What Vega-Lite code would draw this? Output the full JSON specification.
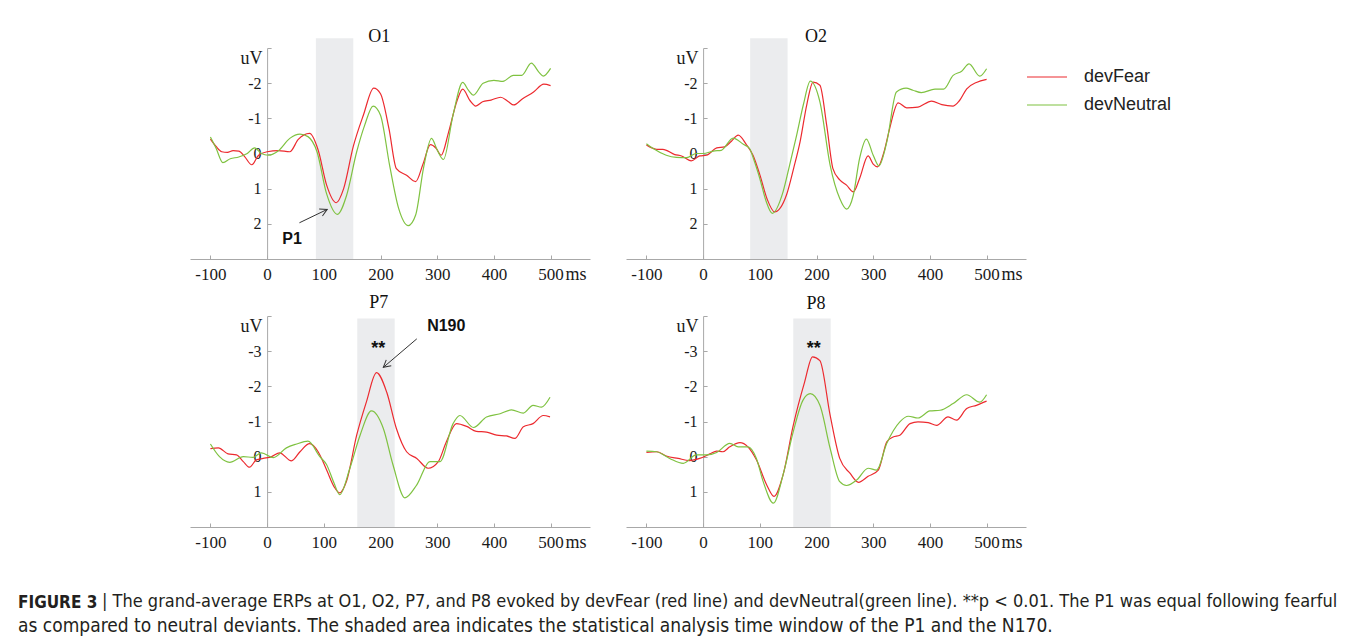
{
  "$schema": "https://vega.github.io/schema/vega-lite/v6.json",
  "background": "white",
  "padding": {"left": 18, "top": 27, "right": 5, "bottom": 5},
  "config": {
    "view": {"stroke": null},
    "axis": {"grid": false, "domainColor": "#a8a8a8", "tickColor": "#a8a8a8", "labelFont": "Liberation Serif", "labelColor": "#1a1a1a", "titleFont": "Liberation Serif", "titleFontWeight": "normal", "titleColor": "#1a1a1a", "labelOverlap": false, "labelFlush": false},
    "title": {"font": "Liberation Sans Narrow, DejaVu Sans Condensed, sans-serif", "fontWeight": "normal", "fontSize": 17, "color": "#231f20"},
    "line": {"strokeWidth": 1.2, "interpolate": "monotone"},
    "legend": {"orient": "none", "legendX": 846, "legendY": 18, "title": null, "symbolType": "M-2,0L2,0", "symbolSize": 400, "symbolStrokeWidth": 1.5, "labelFont": "Liberation Sans", "labelFontSize": 18, "labelColor": "#222222", "labelOffset": 26, "rowPadding": 8, "padding": 0}
  },
  "datasets": {
    "win": [
      {"ch": "O1", "t0": 86, "t1": 152, "v0": 3, "v1": -3.28},
      {"ch": "O2", "t0": 83, "t1": 149, "v0": 3, "v1": -3.28},
      {"ch": "P7", "t0": 159, "t1": 225, "v0": 2, "v1": -3.93},
      {"ch": "P8", "t0": 159, "t1": 225, "v0": 2, "v1": -3.93}
    ],
    "names": [
      {"ch": "O1", "t": 198, "v": -3.176, "label": "O1"},
      {"ch": "O2", "t": 199, "v": -3.176, "label": "O2"},
      {"ch": "P7", "t": 197, "v": -4.216, "label": "P7"},
      {"ch": "P8", "t": 199, "v": -4.2, "label": "P8"}
    ],
    "ann": [
      {"ch": "O1", "t": 44, "v": 2.58, "label": "P1"},
      {"ch": "P7", "t": 316, "v": -3.57, "label": "N190"}
    ],
    "stars": [
      {"ch": "P7", "t": 196, "v": -2.92, "label": "**"},
      {"ch": "P8", "t": 195, "v": -2.92, "label": "**"}
    ],
    "arrows": [
      {"ch": "O1", "t": 57, "v": 1.97, "t2": 106, "v2": 1.59},
      {"ch": "P7", "t": 264, "v": -3.35, "t2": 205, "v2": -2.54}
    ],
    "erp": [
      {"ch":"O1","c":"devFear","t":-100,"v":-0.41},{"ch":"O1","c":"devFear","t":-90,"v":-0.2},{"ch":"O1","c":"devFear","t":-80,"v":-0.05},{"ch":"O1","c":"devFear","t":-70,"v":-0.03},{"ch":"O1","c":"devFear","t":-60,"v":-0.08},{"ch":"O1","c":"devFear","t":-50,"v":-0.07},{"ch":"O1","c":"devFear","t":-40,"v":0.08},{"ch":"O1","c":"devFear","t":-27,"v":0.32},{"ch":"O1","c":"devFear","t":-15,"v":0.05},{"ch":"O1","c":"devFear","t":0,"v":-0.05},{"ch":"O1","c":"devFear","t":20,"v":-0.08},{"ch":"O1","c":"devFear","t":40,"v":-0.05},{"ch":"O1","c":"devFear","t":55,"v":-0.4},{"ch":"O1","c":"devFear","t":75,"v":-0.57},{"ch":"O1","c":"devFear","t":90,"v":-0.1},{"ch":"O1","c":"devFear","t":105,"v":0.9},{"ch":"O1","c":"devFear","t":122,"v":1.4},{"ch":"O1","c":"devFear","t":135,"v":1.0},{"ch":"O1","c":"devFear","t":152,"v":-0.2},{"ch":"O1","c":"devFear","t":170,"v":-1.1},{"ch":"O1","c":"devFear","t":188,"v":-1.86},{"ch":"O1","c":"devFear","t":200,"v":-1.7},{"ch":"O1","c":"devFear","t":215,"v":-0.7},{"ch":"O1","c":"devFear","t":228,"v":0.43},{"ch":"O1","c":"devFear","t":246,"v":0.62},{"ch":"O1","c":"devFear","t":262,"v":0.8},{"ch":"O1","c":"devFear","t":275,"v":0.3},{"ch":"O1","c":"devFear","t":288,"v":-0.25},{"ch":"O1","c":"devFear","t":298,"v":-0.15},{"ch":"O1","c":"devFear","t":307,"v":0.05},{"ch":"O1","c":"devFear","t":320,"v":-0.6},{"ch":"O1","c":"devFear","t":335,"v":-1.5},{"ch":"O1","c":"devFear","t":345,"v":-1.83},{"ch":"O1","c":"devFear","t":358,"v":-1.5},{"ch":"O1","c":"devFear","t":368,"v":-1.35},{"ch":"O1","c":"devFear","t":380,"v":-1.47},{"ch":"O1","c":"devFear","t":395,"v":-1.52},{"ch":"O1","c":"devFear","t":412,"v":-1.6},{"ch":"O1","c":"devFear","t":425,"v":-1.48},{"ch":"O1","c":"devFear","t":435,"v":-1.38},{"ch":"O1","c":"devFear","t":450,"v":-1.55},{"ch":"O1","c":"devFear","t":470,"v":-1.75},{"ch":"O1","c":"devFear","t":488,"v":-1.97},{"ch":"O1","c":"devFear","t":500,"v":-1.93},
      {"ch":"O1","c":"devNeutral","t":-100,"v":-0.47},{"ch":"O1","c":"devNeutral","t":-90,"v":-0.15},{"ch":"O1","c":"devNeutral","t":-78,"v":0.26},{"ch":"O1","c":"devNeutral","t":-65,"v":0.15},{"ch":"O1","c":"devNeutral","t":-50,"v":0.1},{"ch":"O1","c":"devNeutral","t":-35,"v":0.0},{"ch":"O1","c":"devNeutral","t":-22,"v":-0.16},{"ch":"O1","c":"devNeutral","t":-10,"v":0.0},{"ch":"O1","c":"devNeutral","t":2,"v":0.05},{"ch":"O1","c":"devNeutral","t":20,"v":-0.08},{"ch":"O1","c":"devNeutral","t":40,"v":-0.43},{"ch":"O1","c":"devNeutral","t":58,"v":-0.55},{"ch":"O1","c":"devNeutral","t":72,"v":-0.48},{"ch":"O1","c":"devNeutral","t":88,"v":-0.05},{"ch":"O1","c":"devNeutral","t":105,"v":1.15},{"ch":"O1","c":"devNeutral","t":124,"v":1.73},{"ch":"O1","c":"devNeutral","t":140,"v":1.2},{"ch":"O1","c":"devNeutral","t":158,"v":-0.05},{"ch":"O1","c":"devNeutral","t":172,"v":-0.8},{"ch":"O1","c":"devNeutral","t":187,"v":-1.35},{"ch":"O1","c":"devNeutral","t":200,"v":-1.09},{"ch":"O1","c":"devNeutral","t":216,"v":0.33},{"ch":"O1","c":"devNeutral","t":232,"v":1.56},{"ch":"O1","c":"devNeutral","t":249,"v":2.05},{"ch":"O1","c":"devNeutral","t":262,"v":1.75},{"ch":"O1","c":"devNeutral","t":276,"v":0.4},{"ch":"O1","c":"devNeutral","t":290,"v":-0.43},{"ch":"O1","c":"devNeutral","t":300,"v":-0.1},{"ch":"O1","c":"devNeutral","t":311,"v":0.17},{"ch":"O1","c":"devNeutral","t":328,"v":-1.1},{"ch":"O1","c":"devNeutral","t":345,"v":-2.02},{"ch":"O1","c":"devNeutral","t":355,"v":-1.8},{"ch":"O1","c":"devNeutral","t":364,"v":-1.66},{"ch":"O1","c":"devNeutral","t":381,"v":-2.0},{"ch":"O1","c":"devNeutral","t":400,"v":-2.08},{"ch":"O1","c":"devNeutral","t":416,"v":-2.05},{"ch":"O1","c":"devNeutral","t":434,"v":-2.22},{"ch":"O1","c":"devNeutral","t":449,"v":-2.22},{"ch":"O1","c":"devNeutral","t":466,"v":-2.57},{"ch":"O1","c":"devNeutral","t":480,"v":-2.3},{"ch":"O1","c":"devNeutral","t":487,"v":-2.2},{"ch":"O1","c":"devNeutral","t":500,"v":-2.42},
      {"ch":"O2","c":"devFear","t":-100,"v":-0.24},{"ch":"O2","c":"devFear","t":-82,"v":-0.12},{"ch":"O2","c":"devFear","t":-71,"v":-0.12},{"ch":"O2","c":"devFear","t":-50,"v":0.03},{"ch":"O2","c":"devFear","t":-38,"v":0.07},{"ch":"O2","c":"devFear","t":-21,"v":0.21},{"ch":"O2","c":"devFear","t":-6,"v":0.07},{"ch":"O2","c":"devFear","t":6,"v":0.05},{"ch":"O2","c":"devFear","t":24,"v":-0.16},{"ch":"O2","c":"devFear","t":38,"v":-0.19},{"ch":"O2","c":"devFear","t":50,"v":-0.35},{"ch":"O2","c":"devFear","t":62,"v":-0.52},{"ch":"O2","c":"devFear","t":76,"v":-0.26},{"ch":"O2","c":"devFear","t":88,"v":0.05},{"ch":"O2","c":"devFear","t":100,"v":0.6},{"ch":"O2","c":"devFear","t":113,"v":1.3},{"ch":"O2","c":"devFear","t":126,"v":1.66},{"ch":"O2","c":"devFear","t":147,"v":1.18},{"ch":"O2","c":"devFear","t":160,"v":0.4},{"ch":"O2","c":"devFear","t":171,"v":-0.33},{"ch":"O2","c":"devFear","t":183,"v":-1.4},{"ch":"O2","c":"devFear","t":194,"v":-2.03},{"ch":"O2","c":"devFear","t":206,"v":-1.94},{"ch":"O2","c":"devFear","t":218,"v":-0.8},{"ch":"O2","c":"devFear","t":229,"v":0.43},{"ch":"O2","c":"devFear","t":241,"v":0.75},{"ch":"O2","c":"devFear","t":253,"v":0.9},{"ch":"O2","c":"devFear","t":265,"v":1.09},{"ch":"O2","c":"devFear","t":276,"v":0.71},{"ch":"O2","c":"devFear","t":291,"v":0.07},{"ch":"O2","c":"devFear","t":300,"v":0.3},{"ch":"O2","c":"devFear","t":308,"v":0.38},{"ch":"O2","c":"devFear","t":320,"v":-0.1},{"ch":"O2","c":"devFear","t":329,"v":-0.71},{"ch":"O2","c":"devFear","t":344,"v":-1.44},{"ch":"O2","c":"devFear","t":359,"v":-1.3},{"ch":"O2","c":"devFear","t":379,"v":-1.32},{"ch":"O2","c":"devFear","t":403,"v":-1.49},{"ch":"O2","c":"devFear","t":421,"v":-1.39},{"ch":"O2","c":"devFear","t":441,"v":-1.35},{"ch":"O2","c":"devFear","t":452,"v":-1.5},{"ch":"O2","c":"devFear","t":465,"v":-1.84},{"ch":"O2","c":"devFear","t":482,"v":-2.02},{"ch":"O2","c":"devFear","t":500,"v":-2.11},
      {"ch":"O2","c":"devNeutral","t":-100,"v":-0.28},{"ch":"O2","c":"devNeutral","t":-88,"v":-0.14},{"ch":"O2","c":"devNeutral","t":-65,"v":0.05},{"ch":"O2","c":"devNeutral","t":-47,"v":0.11},{"ch":"O2","c":"devNeutral","t":-29,"v":0.12},{"ch":"O2","c":"devNeutral","t":-12,"v":0.0},{"ch":"O2","c":"devNeutral","t":0,"v":0.0},{"ch":"O2","c":"devNeutral","t":18,"v":-0.07},{"ch":"O2","c":"devNeutral","t":32,"v":-0.09},{"ch":"O2","c":"devNeutral","t":53,"v":-0.44},{"ch":"O2","c":"devNeutral","t":71,"v":-0.26},{"ch":"O2","c":"devNeutral","t":82,"v":-0.14},{"ch":"O2","c":"devNeutral","t":90,"v":0.2},{"ch":"O2","c":"devNeutral","t":100,"v":0.71},{"ch":"O2","c":"devNeutral","t":111,"v":1.35},{"ch":"O2","c":"devNeutral","t":122,"v":1.7},{"ch":"O2","c":"devNeutral","t":141,"v":1.09},{"ch":"O2","c":"devNeutral","t":153,"v":0.3},{"ch":"O2","c":"devNeutral","t":165,"v":-0.52},{"ch":"O2","c":"devNeutral","t":177,"v":-1.4},{"ch":"O2","c":"devNeutral","t":189,"v":-2.06},{"ch":"O2","c":"devNeutral","t":206,"v":-1.47},{"ch":"O2","c":"devNeutral","t":224,"v":0.33},{"ch":"O2","c":"devNeutral","t":241,"v":1.28},{"ch":"O2","c":"devNeutral","t":253,"v":1.58},{"ch":"O2","c":"devNeutral","t":265,"v":1.18},{"ch":"O2","c":"devNeutral","t":276,"v":0.14},{"ch":"O2","c":"devNeutral","t":288,"v":-0.41},{"ch":"O2","c":"devNeutral","t":300,"v":0.05},{"ch":"O2","c":"devNeutral","t":310,"v":0.35},{"ch":"O2","c":"devNeutral","t":324,"v":-0.33},{"ch":"O2","c":"devNeutral","t":341,"v":-1.75},{"ch":"O2","c":"devNeutral","t":358,"v":-1.86},{"ch":"O2","c":"devNeutral","t":370,"v":-1.8},{"ch":"O2","c":"devNeutral","t":385,"v":-1.73},{"ch":"O2","c":"devNeutral","t":409,"v":-1.83},{"ch":"O2","c":"devNeutral","t":424,"v":-1.83},{"ch":"O2","c":"devNeutral","t":441,"v":-2.22},{"ch":"O2","c":"devNeutral","t":456,"v":-2.34},{"ch":"O2","c":"devNeutral","t":469,"v":-2.55},{"ch":"O2","c":"devNeutral","t":488,"v":-2.2},{"ch":"O2","c":"devNeutral","t":500,"v":-2.41},
      {"ch":"P7","c":"devFear","t":-100,"v":-0.23},{"ch":"P7","c":"devFear","t":-86,"v":-0.25},{"ch":"P7","c":"devFear","t":-69,"v":-0.08},{"ch":"P7","c":"devFear","t":-54,"v":-0.05},{"ch":"P7","c":"devFear","t":-42,"v":0.14},{"ch":"P7","c":"devFear","t":-31,"v":0.3},{"ch":"P7","c":"devFear","t":-19,"v":0.09},{"ch":"P7","c":"devFear","t":-7,"v":0.05},{"ch":"P7","c":"devFear","t":8,"v":0.0},{"ch":"P7","c":"devFear","t":22,"v":-0.11},{"ch":"P7","c":"devFear","t":43,"v":0.12},{"ch":"P7","c":"devFear","t":58,"v":-0.14},{"ch":"P7","c":"devFear","t":75,"v":-0.37},{"ch":"P7","c":"devFear","t":90,"v":-0.14},{"ch":"P7","c":"devFear","t":105,"v":0.38},{"ch":"P7","c":"devFear","t":118,"v":0.85},{"ch":"P7","c":"devFear","t":128,"v":1.03},{"ch":"P7","c":"devFear","t":140,"v":0.7},{"ch":"P7","c":"devFear","t":158,"v":-0.61},{"ch":"P7","c":"devFear","t":175,"v":-1.55},{"ch":"P7","c":"devFear","t":193,"v":-2.39},{"ch":"P7","c":"devFear","t":211,"v":-1.83},{"ch":"P7","c":"devFear","t":228,"v":-0.8},{"ch":"P7","c":"devFear","t":246,"v":-0.14},{"ch":"P7","c":"devFear","t":264,"v":0.05},{"ch":"P7","c":"devFear","t":284,"v":0.33},{"ch":"P7","c":"devFear","t":302,"v":0.14},{"ch":"P7","c":"devFear","t":316,"v":-0.42},{"ch":"P7","c":"devFear","t":334,"v":-0.94},{"ch":"P7","c":"devFear","t":352,"v":-0.86},{"ch":"P7","c":"devFear","t":369,"v":-0.72},{"ch":"P7","c":"devFear","t":387,"v":-0.7},{"ch":"P7","c":"devFear","t":405,"v":-0.61},{"ch":"P7","c":"devFear","t":422,"v":-0.59},{"ch":"P7","c":"devFear","t":437,"v":-0.52},{"ch":"P7","c":"devFear","t":452,"v":-0.85},{"ch":"P7","c":"devFear","t":469,"v":-0.94},{"ch":"P7","c":"devFear","t":487,"v":-1.17},{"ch":"P7","c":"devFear","t":499,"v":-1.13},
      {"ch":"P7","c":"devNeutral","t":-100,"v":-0.36},{"ch":"P7","c":"devNeutral","t":-84,"v":0.0},{"ch":"P7","c":"devNeutral","t":-66,"v":0.16},{"ch":"P7","c":"devNeutral","t":-42,"v":0.0},{"ch":"P7","c":"devNeutral","t":-25,"v":0.02},{"ch":"P7","c":"devNeutral","t":-10,"v":-0.11},{"ch":"P7","c":"devNeutral","t":11,"v":0.03},{"ch":"P7","c":"devNeutral","t":34,"v":-0.25},{"ch":"P7","c":"devNeutral","t":52,"v":-0.36},{"ch":"P7","c":"devNeutral","t":72,"v":-0.44},{"ch":"P7","c":"devNeutral","t":93,"v":0.0},{"ch":"P7","c":"devNeutral","t":105,"v":0.23},{"ch":"P7","c":"devNeutral","t":118,"v":0.75},{"ch":"P7","c":"devNeutral","t":128,"v":1.08},{"ch":"P7","c":"devNeutral","t":146,"v":0.33},{"ch":"P7","c":"devNeutral","t":164,"v":-0.61},{"ch":"P7","c":"devNeutral","t":184,"v":-1.3},{"ch":"P7","c":"devNeutral","t":205,"v":-0.8},{"ch":"P7","c":"devNeutral","t":222,"v":0.23},{"ch":"P7","c":"devNeutral","t":243,"v":1.17},{"ch":"P7","c":"devNeutral","t":264,"v":0.8},{"ch":"P7","c":"devNeutral","t":287,"v":0.14},{"ch":"P7","c":"devNeutral","t":305,"v":0.14},{"ch":"P7","c":"devNeutral","t":328,"v":-0.94},{"ch":"P7","c":"devNeutral","t":340,"v":-1.17},{"ch":"P7","c":"devNeutral","t":364,"v":-0.83},{"ch":"P7","c":"devNeutral","t":387,"v":-1.13},{"ch":"P7","c":"devNeutral","t":411,"v":-1.22},{"ch":"P7","c":"devNeutral","t":431,"v":-1.33},{"ch":"P7","c":"devNeutral","t":452,"v":-1.24},{"ch":"P7","c":"devNeutral","t":469,"v":-1.46},{"ch":"P7","c":"devNeutral","t":484,"v":-1.41},{"ch":"P7","c":"devNeutral","t":499,"v":-1.69},
      {"ch":"P8","c":"devFear","t":-100,"v":-0.12},{"ch":"P8","c":"devFear","t":-82,"v":-0.14},{"ch":"P8","c":"devFear","t":-65,"v":-0.02},{"ch":"P8","c":"devFear","t":-44,"v":0.05},{"ch":"P8","c":"devFear","t":-24,"v":0.11},{"ch":"P8","c":"devFear","t":-6,"v":0.05},{"ch":"P8","c":"devFear","t":12,"v":-0.08},{"ch":"P8","c":"devFear","t":24,"v":-0.16},{"ch":"P8","c":"devFear","t":35,"v":-0.14},{"ch":"P8","c":"devFear","t":47,"v":-0.28},{"ch":"P8","c":"devFear","t":65,"v":-0.4},{"ch":"P8","c":"devFear","t":79,"v":-0.28},{"ch":"P8","c":"devFear","t":94,"v":0.09},{"ch":"P8","c":"devFear","t":112,"v":0.8},{"ch":"P8","c":"devFear","t":125,"v":1.13},{"ch":"P8","c":"devFear","t":141,"v":0.52},{"ch":"P8","c":"devFear","t":159,"v":-0.89},{"ch":"P8","c":"devFear","t":179,"v":-2.12},{"ch":"P8","c":"devFear","t":193,"v":-2.84},{"ch":"P8","c":"devFear","t":206,"v":-2.73},{"ch":"P8","c":"devFear","t":224,"v":-1.18},{"ch":"P8","c":"devFear","t":241,"v":0.05},{"ch":"P8","c":"devFear","t":259,"v":0.47},{"ch":"P8","c":"devFear","t":274,"v":0.73},{"ch":"P8","c":"devFear","t":291,"v":0.56},{"ch":"P8","c":"devFear","t":309,"v":0.38},{"ch":"P8","c":"devFear","t":324,"v":-0.42},{"ch":"P8","c":"devFear","t":335,"v":-0.56},{"ch":"P8","c":"devFear","t":347,"v":-0.61},{"ch":"P8","c":"devFear","t":365,"v":-0.94},{"ch":"P8","c":"devFear","t":379,"v":-0.99},{"ch":"P8","c":"devFear","t":397,"v":-0.97},{"ch":"P8","c":"devFear","t":412,"v":-0.89},{"ch":"P8","c":"devFear","t":432,"v":-1.13},{"ch":"P8","c":"devFear","t":447,"v":-1.04},{"ch":"P8","c":"devFear","t":465,"v":-1.37},{"ch":"P8","c":"devFear","t":482,"v":-1.46},{"ch":"P8","c":"devFear","t":500,"v":-1.58},
      {"ch":"P8","c":"devNeutral","t":-100,"v":-0.16},{"ch":"P8","c":"devNeutral","t":-82,"v":-0.14},{"ch":"P8","c":"devNeutral","t":-59,"v":0.05},{"ch":"P8","c":"devNeutral","t":-35,"v":0.19},{"ch":"P8","c":"devNeutral","t":-12,"v":-0.05},{"ch":"P8","c":"devNeutral","t":6,"v":-0.05},{"ch":"P8","c":"devNeutral","t":24,"v":-0.12},{"ch":"P8","c":"devNeutral","t":47,"v":-0.38},{"ch":"P8","c":"devNeutral","t":62,"v":-0.28},{"ch":"P8","c":"devNeutral","t":79,"v":-0.28},{"ch":"P8","c":"devNeutral","t":94,"v":0.05},{"ch":"P8","c":"devNeutral","t":106,"v":0.71},{"ch":"P8","c":"devNeutral","t":124,"v":1.32},{"ch":"P8","c":"devNeutral","t":141,"v":0.52},{"ch":"P8","c":"devNeutral","t":159,"v":-0.71},{"ch":"P8","c":"devNeutral","t":176,"v":-1.6},{"ch":"P8","c":"devNeutral","t":189,"v":-1.79},{"ch":"P8","c":"devNeutral","t":206,"v":-1.46},{"ch":"P8","c":"devNeutral","t":224,"v":-0.24},{"ch":"P8","c":"devNeutral","t":241,"v":0.71},{"ch":"P8","c":"devNeutral","t":253,"v":0.82},{"ch":"P8","c":"devNeutral","t":271,"v":0.66},{"ch":"P8","c":"devNeutral","t":291,"v":0.33},{"ch":"P8","c":"devNeutral","t":306,"v":0.38},{"ch":"P8","c":"devNeutral","t":324,"v":-0.38},{"ch":"P8","c":"devNeutral","t":347,"v":-0.99},{"ch":"P8","c":"devNeutral","t":362,"v":-1.15},{"ch":"P8","c":"devNeutral","t":379,"v":-1.1},{"ch":"P8","c":"devNeutral","t":400,"v":-1.3},{"ch":"P8","c":"devNeutral","t":418,"v":-1.32},{"ch":"P8","c":"devNeutral","t":441,"v":-1.51},{"ch":"P8","c":"devNeutral","t":465,"v":-1.76},{"ch":"P8","c":"devNeutral","t":488,"v":-1.55},{"ch":"P8","c":"devNeutral","t":500,"v":-1.76}
    ]
  },
  "resolve": {"scale": {"x": "independent", "y": "independent", "color": "shared"}, "legend": {"color": "shared"}},
  "bounds": "flush",
  "columns": 2,
  "spacing": {"row": 57, "column": 36},
  "concat": [
    {
      "width": 400, "height": 211,
      "layer": [
        {"data": {"name": "win"}, "transform": [{"filter": "datum.ch == 'O1'"}], "mark": {"type": "rect", "color": "#ebecee", "clip": false}, "encoding": {"x": {"field": "t0", "type": "quantitative", "title": "ms"}, "x2": {"field": "t1"}, "y": {"field": "v0", "type": "quantitative", "title": "uV"}, "y2": {"field": "v1"}}},
        {"data": {"name": "erp"}, "transform": [{"filter": "datum.ch == 'O1'"}], "mark": {"type": "line"},
         "encoding": {
           "x": {"field": "t", "type": "quantitative", "scale": {"domain": [-136, 569.5], "nice": false, "zero": false}, "axis": {"values": [-100, 0, 100, 200, 300, 400, 500], "tickSize": -4, "labelFontSize": 17, "labelPadding": 24, "labelBaseline": "alphabetic", "labelExpr": "(datum.value < 0 ? '-' : '') + abs(datum.value)", "title": "ms", "titleX": 375, "titleY": 20, "titleAlign": "left", "titleBaseline": "alphabetic", "titleFontSize": 18}},
           "y": {"field": "v", "type": "quantitative", "scale": {"domain": [-3, 3], "reverse": true, "nice": false, "zero": false}, "axis": {"values": [-3, -2, -1, 0, 1, 2], "offset": -77.1, "tickSize": -4, "labelFontSize": 16, "labelPadding": 10, "labelExpr": "datum.value == -3 ? '' : (datum.value < 0 ? '-' : '') + abs(datum.value)", "title": "uV", "titleAngle": 0, "titleX": -16, "titleY": 10, "titleAlign": "center", "titleBaseline": "middle", "titleFontSize": 18}},
           "color": {"field": "c", "type": "nominal", "scale": {"domain": ["devFear", "devNeutral"], "range": ["#ec2a2f", "#7fc241"]}}
         }},
        {"data": {"name": "names"}, "transform": [{"filter": "datum.ch == 'O1'"}], "mark": {"type": "text", "font": "Liberation Serif", "fontSize": 18, "color": "#111111", "align": "center", "baseline": "alphabetic", "clip": false}, "encoding": {"x": {"field": "t", "type": "quantitative", "title": "ms"}, "y": {"field": "v", "type": "quantitative", "title": "uV"}, "text": {"field": "label"}}},
        {"data": {"name": "ann"}, "transform": [{"filter": "datum.ch == 'O1'"}], "mark": {"type": "text", "font": "Liberation Sans", "fontWeight": "bold", "fontSize": 16, "color": "#111111", "align": "center", "baseline": "alphabetic"}, "encoding": {"x": {"field": "t", "type": "quantitative", "title": "ms"}, "y": {"field": "v", "type": "quantitative", "title": "uV"}, "text": {"field": "label"}}},
        {"data": {"name": "arrows"}, "transform": [{"filter": "datum.ch == 'O1'"}], "mark": {"type": "rule", "color": "#333333", "strokeWidth": 1}, "encoding": {"x": {"field": "t", "type": "quantitative", "title": "ms"}, "y": {"field": "v", "type": "quantitative", "title": "uV"}, "x2": {"field": "t2"}, "y2": {"field": "v2"}}},
        {"data": {"name": "arrows"}, "transform": [{"filter": "datum.ch == 'O1'"}], "mark": {"type": "point", "shape": "M-1,-0.55L0,0L-1,0.55", "size": 200, "filled": false, "stroke": "#333333", "strokeWidth": 1, "opacity": 1, "angle": 335}, "encoding": {"x": {"field": "t2", "type": "quantitative", "title": "ms"}, "y": {"field": "v2", "type": "quantitative", "title": "uV"}}}
      ]
    },
    {
      "width": 400, "height": 211,
      "layer": [
        {"data": {"name": "win"}, "transform": [{"filter": "datum.ch == 'O2'"}], "mark": {"type": "rect", "color": "#ebecee", "clip": false}, "encoding": {"x": {"field": "t0", "type": "quantitative", "title": "ms"}, "x2": {"field": "t1"}, "y": {"field": "v0", "type": "quantitative", "title": "uV"}, "y2": {"field": "v1"}}},
        {"data": {"name": "erp"}, "transform": [{"filter": "datum.ch == 'O2'"}], "mark": {"type": "line"},
         "encoding": {
           "x": {"field": "t", "type": "quantitative", "scale": {"domain": [-136, 569.5], "nice": false, "zero": false}, "axis": {"values": [-100, 0, 100, 200, 300, 400, 500], "tickSize": -4, "labelFontSize": 17, "labelPadding": 24, "labelBaseline": "alphabetic", "labelExpr": "(datum.value < 0 ? '-' : '') + abs(datum.value)", "title": "ms", "titleX": 375, "titleY": 20, "titleAlign": "left", "titleBaseline": "alphabetic", "titleFontSize": 18}},
           "y": {"field": "v", "type": "quantitative", "scale": {"domain": [-3, 3], "reverse": true, "nice": false, "zero": false}, "axis": {"values": [-3, -2, -1, 0, 1, 2], "offset": -77.1, "tickSize": -4, "labelFontSize": 16, "labelPadding": 10, "labelExpr": "datum.value == -3 ? '' : (datum.value < 0 ? '-' : '') + abs(datum.value)", "title": "uV", "titleAngle": 0, "titleX": -16, "titleY": 10, "titleAlign": "center", "titleBaseline": "middle", "titleFontSize": 18}},
           "color": {"field": "c", "type": "nominal", "scale": {"domain": ["devFear", "devNeutral"], "range": ["#ec2a2f", "#7fc241"]}}
         }},
        {"data": {"name": "names"}, "transform": [{"filter": "datum.ch == 'O2'"}], "mark": {"type": "text", "font": "Liberation Serif", "fontSize": 18, "color": "#111111", "align": "center", "baseline": "alphabetic", "clip": false}, "encoding": {"x": {"field": "t", "type": "quantitative", "title": "ms"}, "y": {"field": "v", "type": "quantitative", "title": "uV"}, "text": {"field": "label"}}}
      ]
    },
    {
      "width": 400, "height": 211,
      "title": {"text": "FIGURE 3", "subtitle": "as compared to neutral deviants. The shaded area indicates the statistical analysis time window of the P1 and the N170.", "orient": "bottom", "anchor": "start", "frame": "group", "dx": -172, "offset": 57, "baseline": "alphabetic", "fontWeight": "bold", "subtitleFont": "Liberation Sans Narrow, DejaVu Sans Condensed, sans-serif", "subtitleFontSize": 19, "subtitleFontWeight": "normal", "subtitleColor": "#231f20", "subtitlePadding": 7},
      "layer": [
        {"data": {"name": "win"}, "transform": [{"filter": "datum.ch == 'P7'"}], "mark": {"type": "rect", "color": "#ebecee", "clip": false}, "encoding": {"x": {"field": "t0", "type": "quantitative", "title": "ms"}, "x2": {"field": "t1"}, "y": {"field": "v0", "type": "quantitative", "title": "uV"}, "y2": {"field": "v1"}}},
        {"data": {"name": "erp"}, "transform": [{"filter": "datum.ch == 'P7'"}], "mark": {"type": "line"},
         "encoding": {
           "x": {"field": "t", "type": "quantitative", "scale": {"domain": [-136, 569.5], "nice": false, "zero": false}, "axis": {"values": [-100, 0, 100, 200, 300, 400, 500], "tickSize": -4, "labelFontSize": 17, "labelPadding": 24, "labelBaseline": "alphabetic", "labelExpr": "(datum.value < 0 ? '-' : '') + abs(datum.value)", "title": "ms", "titleX": 375, "titleY": 20, "titleAlign": "left", "titleBaseline": "alphabetic", "titleFontSize": 18}},
           "y": {"field": "v", "type": "quantitative", "scale": {"domain": [-4, 2], "reverse": true, "nice": false, "zero": false}, "axis": {"values": [-4, -3, -2, -1, 0, 1], "offset": -77.1, "tickSize": -4, "labelFontSize": 16, "labelPadding": 10, "labelExpr": "datum.value == -4 ? '' : (datum.value < 0 ? '-' : '') + abs(datum.value)", "title": "uV", "titleAngle": 0, "titleX": -16, "titleY": 10, "titleAlign": "center", "titleBaseline": "middle", "titleFontSize": 18}},
           "color": {"field": "c", "type": "nominal", "scale": {"domain": ["devFear", "devNeutral"], "range": ["#ec2a2f", "#7fc241"]}}
         }},
        {"data": {"name": "names"}, "transform": [{"filter": "datum.ch == 'P7'"}], "mark": {"type": "text", "font": "Liberation Serif", "fontSize": 18, "color": "#111111", "align": "center", "baseline": "alphabetic", "clip": false}, "encoding": {"x": {"field": "t", "type": "quantitative", "title": "ms"}, "y": {"field": "v", "type": "quantitative", "title": "uV"}, "text": {"field": "label"}}},
        {"data": {"name": "stars"}, "transform": [{"filter": "datum.ch == 'P7'"}], "mark": {"type": "text", "font": "Liberation Sans", "fontWeight": "bold", "fontSize": 18, "color": "#111111", "align": "center", "baseline": "alphabetic"}, "encoding": {"x": {"field": "t", "type": "quantitative", "title": "ms"}, "y": {"field": "v", "type": "quantitative", "title": "uV"}, "text": {"field": "label"}}},
        {"data": {"name": "ann"}, "transform": [{"filter": "datum.ch == 'P7'"}], "mark": {"type": "text", "font": "Liberation Sans", "fontWeight": "bold", "fontSize": 16, "color": "#111111", "align": "center", "baseline": "alphabetic"}, "encoding": {"x": {"field": "t", "type": "quantitative", "title": "ms"}, "y": {"field": "v", "type": "quantitative", "title": "uV"}, "text": {"field": "label"}}},
        {"data": {"name": "arrows"}, "transform": [{"filter": "datum.ch == 'P7'"}], "mark": {"type": "rule", "color": "#333333", "strokeWidth": 1}, "encoding": {"x": {"field": "t", "type": "quantitative", "title": "ms"}, "y": {"field": "v", "type": "quantitative", "title": "uV"}, "x2": {"field": "t2"}, "y2": {"field": "v2"}}},
        {"data": {"name": "arrows"}, "transform": [{"filter": "datum.ch == 'P7'"}], "mark": {"type": "point", "shape": "M-1,-0.55L0,0L-1,0.55", "size": 200, "filled": false, "stroke": "#333333", "strokeWidth": 1, "opacity": 1, "angle": 140}, "encoding": {"x": {"field": "t2", "type": "quantitative", "title": "ms"}, "y": {"field": "v2", "type": "quantitative", "title": "uV"}}}
      ]
    },
    {
      "width": 400, "height": 211,
      "title": {"text": "| The grand-average ERPs at O1, O2, P7, and P8 evoked by devFear (red line) and devNeutral(green line). **p < 0.01. The P1 was equal following fearful", "orient": "bottom", "anchor": "start", "frame": "group", "dx": -524, "offset": 56, "baseline": "alphabetic", "fontWeight": "normal", "fontSize": 18},
      "layer": [
        {"data": {"name": "win"}, "transform": [{"filter": "datum.ch == 'P8'"}], "mark": {"type": "rect", "color": "#ebecee", "clip": false}, "encoding": {"x": {"field": "t0", "type": "quantitative", "title": "ms"}, "x2": {"field": "t1"}, "y": {"field": "v0", "type": "quantitative", "title": "uV"}, "y2": {"field": "v1"}}},
        {"data": {"name": "erp"}, "transform": [{"filter": "datum.ch == 'P8'"}], "mark": {"type": "line"},
         "encoding": {
           "x": {"field": "t", "type": "quantitative", "scale": {"domain": [-136, 569.5], "nice": false, "zero": false}, "axis": {"values": [-100, 0, 100, 200, 300, 400, 500], "tickSize": -4, "labelFontSize": 17, "labelPadding": 24, "labelBaseline": "alphabetic", "labelExpr": "(datum.value < 0 ? '-' : '') + abs(datum.value)", "title": "ms", "titleX": 375, "titleY": 20, "titleAlign": "left", "titleBaseline": "alphabetic", "titleFontSize": 18}},
           "y": {"field": "v", "type": "quantitative", "scale": {"domain": [-4, 2], "reverse": true, "nice": false, "zero": false}, "axis": {"values": [-4, -3, -2, -1, 0, 1], "offset": -77.1, "tickSize": -4, "labelFontSize": 16, "labelPadding": 10, "labelExpr": "datum.value == -4 ? '' : (datum.value < 0 ? '-' : '') + abs(datum.value)", "title": "uV", "titleAngle": 0, "titleX": -16, "titleY": 10, "titleAlign": "center", "titleBaseline": "middle", "titleFontSize": 18}},
           "color": {"field": "c", "type": "nominal", "scale": {"domain": ["devFear", "devNeutral"], "range": ["#ec2a2f", "#7fc241"]}}
         }},
        {"data": {"name": "names"}, "transform": [{"filter": "datum.ch == 'P8'"}], "mark": {"type": "text", "font": "Liberation Serif", "fontSize": 18, "color": "#111111", "align": "center", "baseline": "alphabetic", "clip": false}, "encoding": {"x": {"field": "t", "type": "quantitative", "title": "ms"}, "y": {"field": "v", "type": "quantitative", "title": "uV"}, "text": {"field": "label"}}},
        {"data": {"name": "stars"}, "transform": [{"filter": "datum.ch == 'P8'"}], "mark": {"type": "text", "font": "Liberation Sans", "fontWeight": "bold", "fontSize": 18, "color": "#111111", "align": "center", "baseline": "alphabetic"}, "encoding": {"x": {"field": "t", "type": "quantitative", "title": "ms"}, "y": {"field": "v", "type": "quantitative", "title": "uV"}, "text": {"field": "label"}}}
      ]
    }
  ]
}
